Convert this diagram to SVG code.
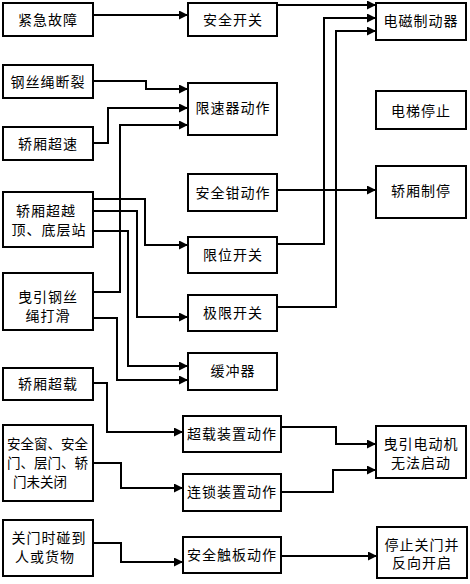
<svg xmlns="http://www.w3.org/2000/svg" width="470" height="584" viewBox="0 0 470 584">
<style>
rect{fill:#fff;stroke:#000;stroke-width:2}
text{font-family:"Liberation Sans","Noto Sans CJK SC",sans-serif;font-size:14px;letter-spacing:1px;fill:#000;dominant-baseline:central}
.c{text-anchor:middle}
.t{letter-spacing:0;font-size:13.5px}
#connectors polyline{fill:none;stroke:#000;stroke-width:2;marker-end:url(#arr)}
</style>
<defs>
<marker id="arr" markerUnits="userSpaceOnUse" markerWidth="10" markerHeight="10" refX="9" refY="4.5" orient="auto">
<path d="M0,0 L9,4.5 L0,9 z" fill="#000"/>
</marker>
</defs>
<g id="connectors">
<polyline points="93,15 188,15"/>
<polyline points="277,5 376,5"/>
<polyline points="93,81 146,81 146,89 188,89"/>
<polyline points="93,143 108,143 108,108 188,108"/>
<polyline points="93,292 120,292 120,125 188,125"/>
<polyline points="93,199 145,199 145,245 188,245"/>
<polyline points="93,211 137,211 137,317 188,317"/>
<polyline points="93,231 128,231 128,366 188,366"/>
<polyline points="93,318 117,318 117,380 188,380"/>
<polyline points="277,190 376,190"/>
<polyline points="277,244 324,244 324,18 376,18"/>
<polyline points="277,307 336,307 336,31 376,31"/>
<polyline points="93,383 107,383 107,432 183,432"/>
<polyline points="93,463 121,463 121,488 183,488"/>
<polyline points="93,543 121,543 121,562 183,562"/>
<polyline points="281,427 336,427 336,444 376,444"/>
<polyline points="281,492 333,492 333,470 376,470"/>
<polyline points="281,556 377,556"/>
</g>
<g id="n1"><rect x="3" y="3" width="90" height="33"/><text class="c" x="48" y="20">紧急故障</text></g>
<g id="n2"><rect x="3" y="65" width="90" height="33"/><text class="c" x="48" y="82">钢丝绳断裂</text></g>
<g id="n3"><rect x="3" y="127" width="90" height="33"/><text class="c" x="48" y="144">轿厢超速</text></g>
<g id="n4"><rect x="3" y="192" width="90" height="55"/><text class="c" x="46" y="211">轿厢超越</text><text class="c" x="49" y="230">顶、底层站</text></g>
<g id="n5"><rect x="3" y="273" width="90" height="57"/><text class="c" x="48" y="297">曳引钢丝</text><text class="c" x="48" y="316">绳打滑</text></g>
<g id="n6"><rect x="3" y="368" width="90" height="32"/><text class="c" x="48" y="384">轿厢超载</text></g>
<g id="n7"><rect x="3" y="425" width="90" height="76"/><text class="t" x="7" y="444">安全窗、安全</text><text class="t" x="7" y="463">门、层门、轿</text><text class="t" x="13" y="482">门未关闭</text></g>
<g id="n8"><rect x="3" y="520" width="90" height="56"/><text class="c" x="49" y="538">关门时碰到</text><text class="c" x="45" y="557">人或货物</text></g>
<g id="m1"><rect x="188" y="3" width="89" height="33"/><text class="c" x="233" y="20">安全开关</text></g>
<g id="m2"><rect x="188" y="83" width="89" height="52"/><text class="c" x="233" y="108">限速器动作</text></g>
<g id="m3"><rect x="188" y="174" width="89" height="37"/><text class="c" x="233" y="193">安全钳动作</text></g>
<g id="m4"><rect x="188" y="237" width="89" height="36"/><text class="c" x="233" y="255">限位开关</text></g>
<g id="m5"><rect x="188" y="295" width="89" height="36"/><text class="c" x="233" y="313">极限开关</text></g>
<g id="m6"><rect x="188" y="353" width="89" height="37"/><text class="c" x="233" y="371">缓冲器</text></g>
<g id="m7"><rect x="183" y="416" width="98" height="36"/><text class="c" x="232" y="434">超载装置动作</text></g>
<g id="m8"><rect x="183" y="474" width="98" height="37"/><text class="c" x="232" y="492">连锁装置动作</text></g>
<g id="m9"><rect x="183" y="537" width="98" height="36"/><text class="c" x="232" y="555">安全触板动作</text></g>
<g id="r1"><rect x="376" y="3" width="90" height="37"/><text class="c" x="421" y="21">电磁制动器</text></g>
<g id="r2"><rect x="376" y="91" width="90" height="38"/><text class="c" x="421" y="111">电梯停止</text></g>
<g id="r3"><rect x="376" y="166" width="90" height="52"/><text class="c" x="421" y="191">轿厢制停</text></g>
<g id="r4"><rect x="376" y="426" width="90" height="52"/><text class="c" x="421" y="444">曳引电动机</text><text class="c" x="421" y="463">无法启动</text></g>
<g id="r5"><rect x="377" y="527" width="90" height="51"/><text class="c" x="422" y="545">停止关门并</text><text class="c" x="422" y="563">反向开启</text></g>
</svg>
